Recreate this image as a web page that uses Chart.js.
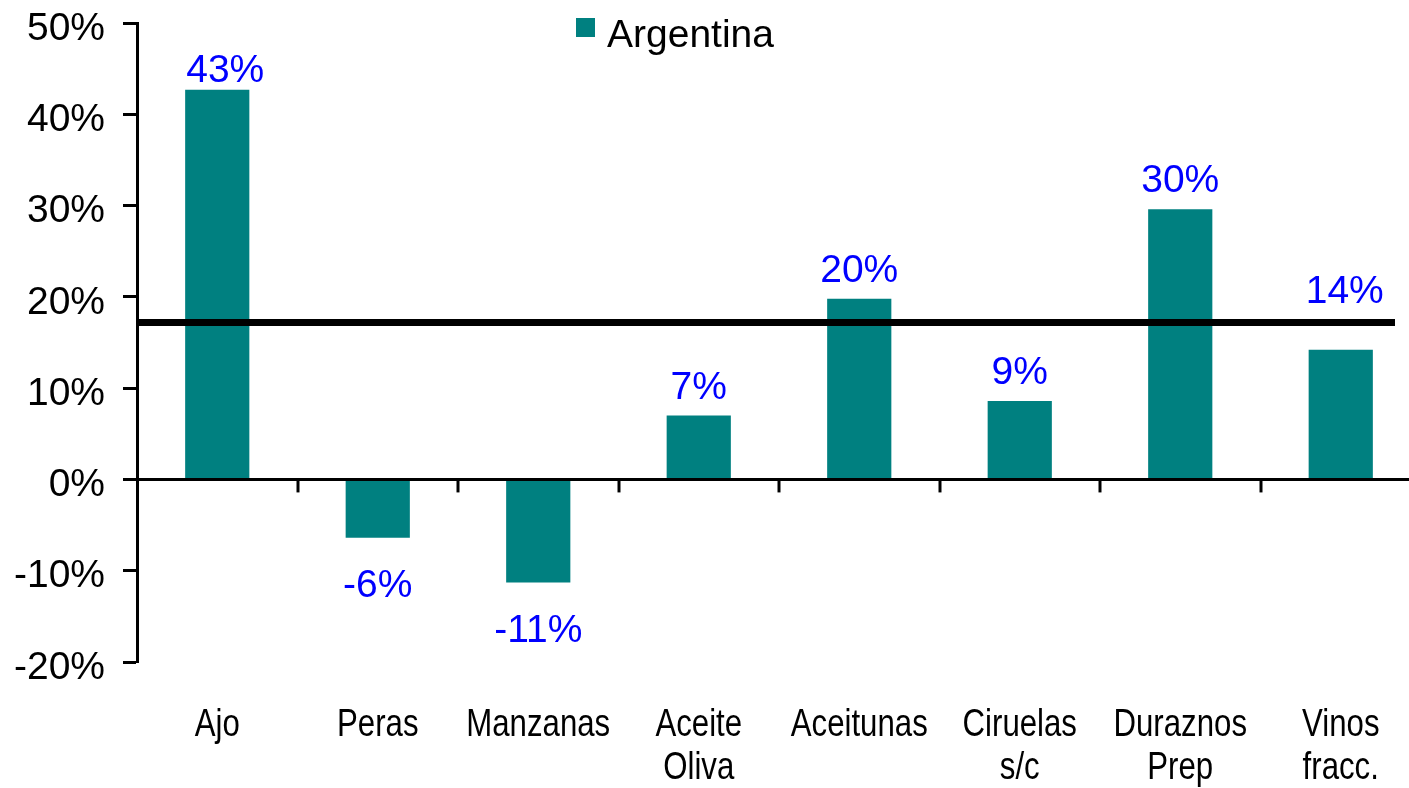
<!DOCTYPE html>
<html><head><meta charset="utf-8">
<script src="https://cdn.jsdelivr.net/npm/chart.js@4/dist/chart.umd.min.js"></script>
<style>html,body{margin:0;padding:0;background:#fff;overflow:hidden;width:1409px;height:788px}canvas{display:block}</style>
</head><body>
<canvas id="c" width="1440" height="788" style="width:1440px;height:788px"></canvas>
<script>
// ---- data ----
const categories = [['Ajo'], ['Peras'], ['Manzanas'], ['Aceite', 'Oliva'], ['Aceitunas'], ['Ciruelas', 's/c'], ['Duraznos', 'Prep'], ['Vinos', 'fracc.']];
const seriesName = 'Argentina';
const argentinaValues = [42.7, -6.4, -11.3, 7.0, 19.8, 8.6, 29.6, 14.2];
const referenceValue = 17.2;
const yMin = -20, yMax = 50, yStep = 10;

const TEAL = '#008080';
const BLUE = '#0000FF';
const FONT = '"Liberation Sans", Arial, sans-serif';

const annot = {
  id: 'annot',
  afterDatasetsDraw(chart, args, opts) {
    const { ctx, chartArea: ca, scales: { x, y } } = chart;
    ctx.save();
    // zero line
    const y0 = y.getPixelForValue(0);
    ctx.strokeStyle = '#000';
    ctx.lineWidth = 3;
    ctx.beginPath(); ctx.moveTo(ca.left, y0); ctx.lineTo(ca.right, y0); ctx.stroke();
    // category boundary tick marks below zero line
    for (let i = 1; i < categories.length; i++) {
      const xb = Math.round(x.getPixelForValue(i - 0.5));
      ctx.beginPath(); ctx.moveTo(xb, y0); ctx.lineTo(xb, y0 + 13); ctx.stroke();
    }
    // reference line
    const yr = y.getPixelForValue(referenceValue);
    ctx.lineWidth = 7;
    ctx.beginPath(); ctx.moveTo(ca.left, yr); ctx.lineTo(ca.right - opts.refTrim, yr); ctx.stroke();
    // data labels
    const meta = chart.getDatasetMeta(0);
    ctx.fillStyle = BLUE;
    ctx.font = '39px ' + FONT;
    ctx.textAlign = 'center';
    ctx.textBaseline = 'alphabetic';
    meta.data.forEach((bar, i) => {
      const v = argentinaValues[i];
      const txt = Math.round(v) + '%';
      const ov = opts.overrides[i] || {};
      const dx = ov.dx || 0;
      if (v >= 0) {
        const gap = ov.gap !== undefined ? ov.gap : opts.gapAbove;
        ctx.fillText(txt, bar.x + dx, bar.y - gap);
      } else {
        ctx.fillText(txt, bar.x + dx, bar.y + opts.gapBelow);
      }
    });
    ctx.restore();
  },
  afterDraw(chart, args, opts) {
    const { ctx, scales: { x } } = chart;
    ctx.save();
    // category labels (condensed, like Arial Narrow)
    ctx.fillStyle = '#000';
    ctx.font = '39px ' + FONT;
    ctx.textAlign = 'center';
    ctx.textBaseline = 'alphabetic';
    chart.data.labels.forEach((lines, i) => {
      const cx = x.getPixelForValue(i);
      lines.forEach((ln, j) => {
        ctx.save();
        ctx.translate(cx, opts.catBaseline + j * opts.catLineHeight);
        ctx.scale(opts.narrow, 1);
        ctx.fillText(ln, 0, 0);
        ctx.restore();
      });
    });
    // legend
    ctx.fillStyle = TEAL;
    ctx.fillRect(576, 18, 19, 19);
    ctx.fillStyle = '#000';
    ctx.textAlign = 'left';
    ctx.fillText(chart.data.datasets[0].label, 607, 47);
    ctx.restore();
  }
};

new Chart(document.getElementById('c'), {
  type: 'bar',
  data: {
    labels: categories,
    datasets: [{
      label: seriesName,
      data: argentinaValues,
      backgroundColor: TEAL,
      borderWidth: 0,
      categoryPercentage: 1.0,
      barPercentage: 0.4
    }]
  },
  plugins: [annot],
  options: {
    responsive: false,
    animation: false,
    layout: { padding: { top: 23, right: 19, left: 0, bottom: 0 } },
    plugins: {
      legend: { display: false },
      tooltip: { enabled: false },
      annot: {
        gapAbove: 17, gapBelow: 59, refTrim: 26,
        overrides: { 0: { gap: 8, dx: 8 }, 7: { gap: 47, dx: 4 } },
        catBaseline: 736, catLineHeight: 43, narrow: 0.8
      }
    },
    scales: {
      x: {
        grid: { display: false, drawTicks: false },
        border: { display: false },
        ticks: { display: false, autoSkip: false, maxRotation: 0 },
        afterFit: s => { s.height = 126; }
      },
      y: {
        min: yMin, max: yMax,
        grid: { drawOnChartArea: false, drawTicks: true, tickLength: 14, tickWidth: 3, color: '#000' },
        border: { display: true, color: '#000', width: 3 },
        ticks: {
          stepSize: yStep,
          color: '#000',
          font: { family: FONT, size: 39 },
          padding: 18,
          labelOffset: 6,
          callback: v => v + '%'
        },
        afterFit: s => { s.width = 137; s.paddingTop = 0; s.paddingBottom = 0; }
      }
    }
  }
});
</script>
</body></html>
